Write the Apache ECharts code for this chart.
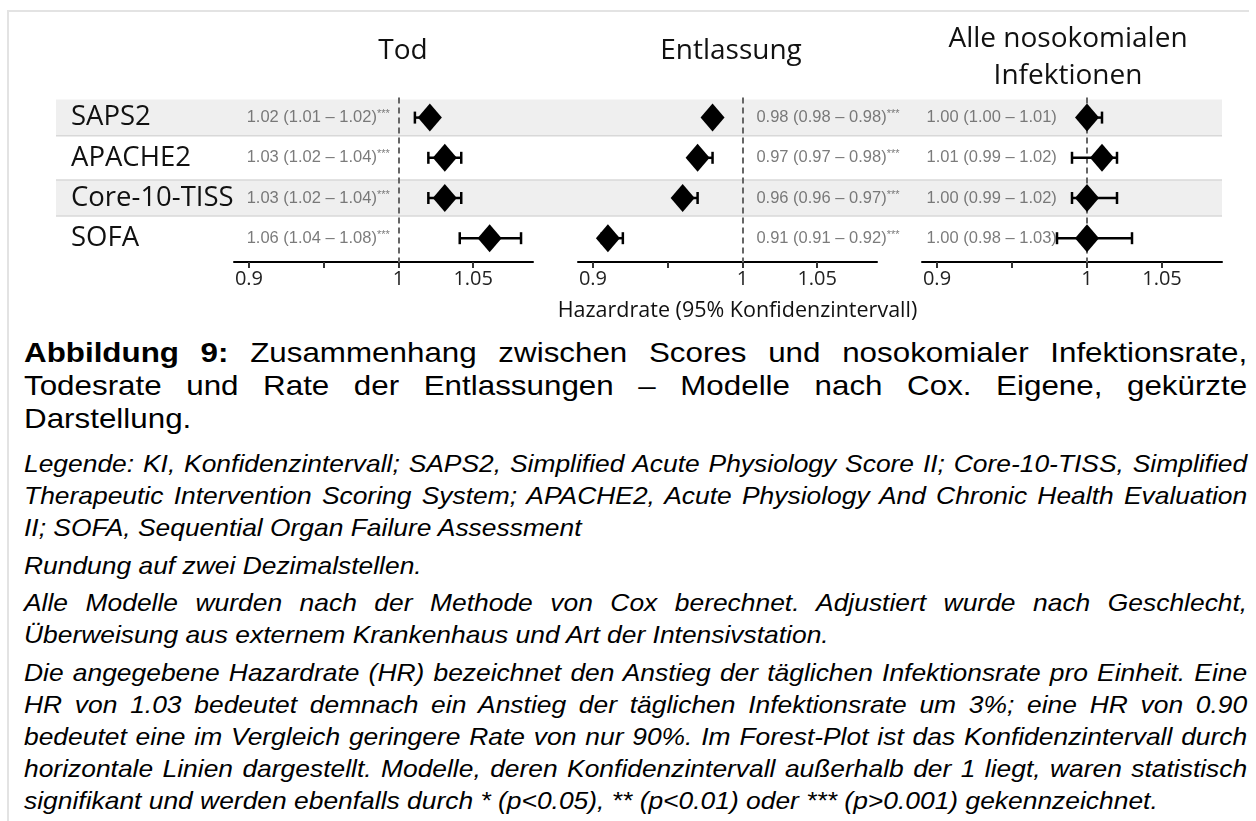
<!DOCTYPE html>
<html>
<head>
<meta charset="utf-8">
<script src="https://cdn.jsdelivr.net/npm/echarts@6/dist/echarts.min.js"></script>
<style>
html,body{margin:0;padding:0;background:#fff;width:1256px;height:821px;overflow:hidden;}
#frame{position:absolute;left:7px;top:10px;width:1240px;height:830px;border-left:2px solid #e3e3e3;border-top:2px solid #e3e3e3;}
#chart{position:absolute;left:0;top:0;width:1256px;height:330px;}
#caption{position:absolute;left:24px;top:335.5px;width:1112px;transform:scaleX(1.1);transform-origin:0 0;font-family:"Liberation Sans",Arial,sans-serif;color:#000;}
.cap{font-size:28.5px;line-height:33px;}
.it{font-style:italic;font-size:24px;line-height:32px;}
.l{white-space:nowrap;}
.j{text-align:justify;text-align-last:justify;}
.p0{margin-top:13.5px;}
.p{margin-top:5.5px;}
</style>
</head>
<body>
<div id="frame"></div>
<div id="chart"></div>
<div id="caption">
  <div class="cap">
    <div class="l j"><b>Abbildung 9:</b> Zusammenhang zwischen Scores und nosokomialer Infektionsrate,</div>
    <div class="l j">Todesrate und Rate der Entlassungen – Modelle nach Cox. Eigene, gekürzte</div>
    <div class="l">Darstellung.</div>
  </div>
  <div class="it p0">
    <div class="l j">Legende: KI, Konfidenzintervall; SAPS2, Simplified Acute Physiology Score II; Core-10-TISS, Simplified</div>
    <div class="l j">Therapeutic Intervention Scoring System; APACHE2, Acute Physiology And Chronic Health Evaluation</div>
    <div class="l">II; SOFA, Sequential Organ Failure Assessment</div>
  </div>
  <div class="it p">
    <div class="l">Rundung auf zwei Dezimalstellen.</div>
  </div>
  <div class="it p">
    <div class="l j">Alle Modelle wurden nach der Methode von Cox berechnet. Adjustiert wurde nach Geschlecht,</div>
    <div class="l">Überweisung aus externem Krankenhaus und Art der Intensivstation.</div>
  </div>
  <div class="it p">
    <div class="l j">Die angegebene Hazardrate (HR) bezeichnet den Anstieg der täglichen Infektionsrate pro Einheit. Eine</div>
    <div class="l j">HR von 1.03 bedeutet demnach ein Anstieg der täglichen Infektionsrate um 3%; eine HR von 0.90</div>
    <div class="l j">bedeutet eine im Vergleich geringere Rate von nur 90%. Im Forest-Plot ist das Konfidenzintervall durch</div>
    <div class="l j">horizontale Linien dargestellt. Modelle, deren Konfidenzintervall außerhalb der 1 liegt, waren statistisch</div>
    <div class="l">signifikant und werden ebenfalls durch * (p&lt;0.05), ** (p&lt;0.01) oder *** (p&gt;0.001) gekennzeichnet.</div>
  </div>
</div>
<script>
// ---------------- data ----------------
const categories = ['SAPS2', 'APACHE2', 'Core-10-TISS', 'SOFA'];
const panelTitles = ['Tod', 'Entlassung', 'Alle nosokomialen\nInfektionen'];
const axisName = 'Hazardrate (95% Konfidenzintervall)';

const todEst  = [1.021, 1.031, 1.031, 1.061];
const todLow  = [1.011, 1.020, 1.020, 1.041];
const todHigh = [1.024, 1.042, 1.042, 1.082];
const todText = ['1.02 (1.01 – 1.02)***', '1.03 (1.02 – 1.04)***', '1.03 (1.02 – 1.04)***', '1.06 (1.04 – 1.08)***'];

const entEst  = [0.980, 0.970, 0.960, 0.910];
const entLow  = [0.977, 0.967, 0.957, 0.906];
const entHigh = [0.982, 0.980, 0.970, 0.920];
const entText = ['0.98 (0.98 – 0.98)***', '0.97 (0.97 – 0.98)***', '0.96 (0.96 – 0.97)***', '0.91 (0.91 – 0.92)***'];

const infEst  = [1.000, 1.010, 1.000, 1.000];
const infLow  = [0.997, 0.990, 0.990, 0.980];
const infHigh = [1.010, 1.020, 1.020, 1.030];
const infText = ['1.00 (1.00 – 1.01)', '1.01 (0.99 – 1.02)', '1.00 (0.99 – 1.02)', '1.00 (0.98 – 1.03)'];

const tickValues = [0.9, 0.95, 1, 1.05];
const tickLabelValues = [0.9, 1, 1.05];
const axisMin = 0.89, axisMax = 1.09;

// ---------------- layout ----------------
const panels = [
  {est: todEst, low: todLow, high: todHigh, text: todText, left: 234, width: 299, textX: 0.9945, side: 'left',  titleX: 403},
  {est: entEst, low: entLow, high: entHigh, text: entText, left: 578, width: 299, textX: 1.009,  side: 'right', titleX: 731},
  {est: infEst, low: infLow, high: infHigh, text: infText, left: 922, width: 300, textX: 0.8927, side: 'right', titleX: 1068}
];
const gridTop = 97.5, rowH = 40.2, axisY = 262;
const titleTops = [33, 33, 20.5];

const chart = echarts.init(document.getElementById('chart'), null, {renderer: 'canvas'});

const grids = [{left: 56, width: 1166, top: gridTop, height: rowH * categories.length}];
const xAxes = [{gridIndex: 0, type: 'value', min: 0, max: 1, show: false}];
const yAxes = [{
  gridIndex: 0, type: 'category', data: categories, inverse: true,
  axisLine: {show: false}, axisTick: {show: false}, splitLine: {show: false},
  axisLabel: {inside: true, margin: 15, align: 'left', fontFamily: 'Open Sans', fontSize: 27.5, color: '#111'}
}];
const bandRows = categories.map((c, i) => i).filter(i => i % 2 === 0);
const series = [{
  type: 'custom', xAxisIndex: 0, yAxisIndex: 0, z: 0, silent: true,
  data: bandRows.map(i => [i]),
  encode: {y: 0},
  renderItem: function (params, api) {
    const cs = params.coordSys;
    const idx = api.value(0);
    const c = api.coord([0, idx]);
    const h = api.size([0, 1])[1] * 0.9;
    const top = c[1] - h / 2;
    const lineStyle = {stroke: '#d8d8d8', lineWidth: 1.5};
    const children = [
      {type: 'rect', shape: {x: cs.x, y: top, width: cs.width, height: h}, style: {fill: '#efefef'}},
      {type: 'line', shape: {x1: cs.x, y1: top + h, x2: cs.x + cs.width, y2: top + h}, style: lineStyle}
    ];
    if (idx > 0) children.push({type: 'line', shape: {x1: cs.x, y1: top, x2: cs.x + cs.width, y2: top}, style: lineStyle});
    return {type: 'group', children: children};
  }
}];

const titles = [];
panels.forEach(function (p, k) {
  const g = k + 1;
  grids.push({left: p.left, width: p.width, top: gridTop, height: axisY - gridTop});
  xAxes.push({
    gridIndex: g, type: 'value', min: axisMin, max: axisMax,
    axisLine: {show: true, onZero: false, lineStyle: {color: '#000', width: 2}},
    axisTick: {show: true, customValues: tickValues, length: 6, lineStyle: {color: '#333', width: 2}},
    axisLabel: {customValues: tickLabelValues, margin: 7, fontFamily: 'Open Sans', fontSize: 20, color: '#222',
      formatter: v => String(parseFloat(Number(v).toFixed(2)))},
    splitLine: {show: false}
  });
  yAxes.push({gridIndex: g, type: 'value', inverse: true, min: -0.5,
    max: -0.5 + (axisY - gridTop) / rowH, show: false});

  // error bars + dashed reference line
  series.push({
    type: 'custom', xAxisIndex: g, yAxisIndex: g, z: 9, silent: true,
    data: categories.map((c, i) => [p.low[i], p.high[i], i]),
    encode: {x: [0, 1], y: 2},
    renderItem: function (params, api) {
      const a = api.coord([api.value(0), api.value(2)]);
      const b = api.coord([api.value(1), api.value(2)]);
      const cap = 6;
      const st = {stroke: '#000', lineWidth: 2.5};
      return {type: 'group', children: [
        {type: 'line', shape: {x1: a[0], y1: a[1], x2: b[0], y2: b[1]}, style: st},
        {type: 'line', shape: {x1: a[0], y1: a[1] - cap, x2: a[0], y2: a[1] + cap}, style: st},
        {type: 'line', shape: {x1: b[0], y1: b[1] - cap, x2: b[0], y2: b[1] + cap}, style: st}
      ]};
    },
    markLine: {
      silent: true, z: 1, symbol: 'none', label: {show: false}, animation: false,
      lineStyle: {type: [6, 4], color: '#666', width: 2},
      data: [{xAxis: 1}]
    }
  });
  // diamonds
  series.push({
    type: 'scatter', xAxisIndex: g, yAxisIndex: g, z: 10, silent: true,
    symbol: 'diamond', symbolSize: [24, 28],
    itemStyle: {color: '#000', opacity: 1},
    data: p.est.map((v, i) => [v, i])
  });
  // text column
  series.push({
    type: 'scatter', xAxisIndex: g, yAxisIndex: g, z: 8, silent: true,
    symbolSize: 1, itemStyle: {color: 'rgba(0,0,0,0)'},
    data: p.text.map((t, i) => [p.textX, i, t]),
    label: {
      show: true, position: p.side, distance: 0,
      formatter: function (prm) {
        const m = String(prm.data[2]).match(/^(.*?)(\*+)?$/);
        return '{n|' + m[1] + '}' + (m[2] ? '{s|' + m[2] + '}' : '');
      },
      rich: {
        n: {fontFamily: 'Liberation Sans', fontSize: 16.5, color: '#5a5a5a', lineHeight: 18},
        s: {fontFamily: 'Liberation Sans', fontSize: 11, color: '#5a5a5a', lineHeight: 18, verticalAlign: 'top'}
      }
    }
  });
  titles.push({
    text: panelTitles[k], left: p.titleX, top: titleTops[k], textAlign: 'center', padding: 0,
    textStyle: {fontFamily: 'Open Sans', fontSize: 28, fontWeight: 'normal', color: '#111', lineHeight: 37}
  });
});
titles.push({
  text: axisName, left: 737.5, top: 300, textAlign: 'center', padding: 0,
  textStyle: {fontFamily: 'Open Sans', fontSize: 21.5, fontWeight: 'normal', color: '#111'}
});

chart.setOption({
  animation: false,
  title: titles,
  grid: grids,
  xAxis: xAxes,
  yAxis: yAxes,
  series: series
});
</script>
</body>
</html>
